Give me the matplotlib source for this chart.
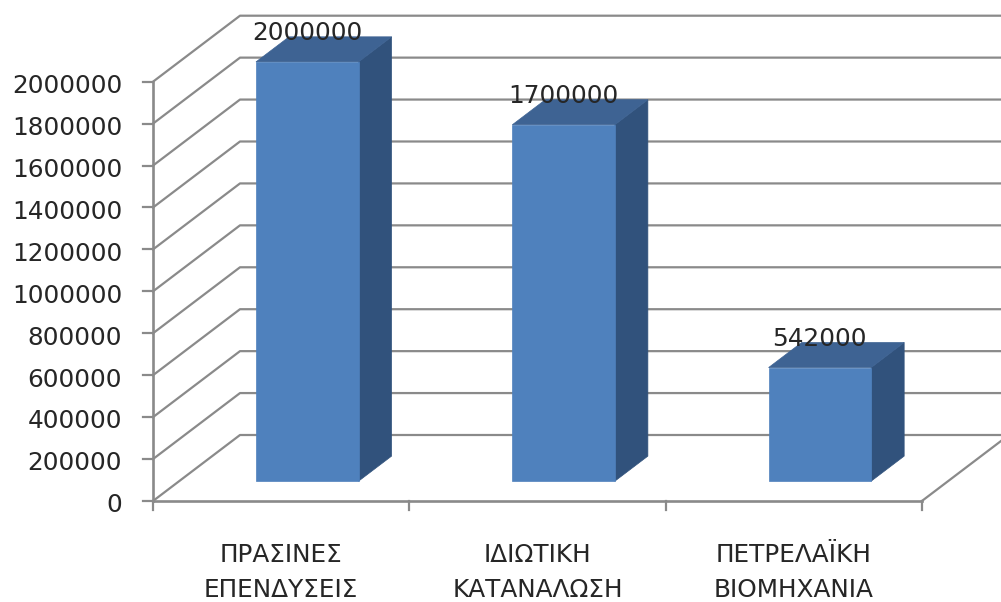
import matplotlib
matplotlib.use('Agg')
import matplotlib.pyplot as plt
from matplotlib.patches import Polygon

# chart data
categories = [["ΠΡΑΣΙΝΕΣ", "ΕΠΕΝΔΥΣΕΙΣ"],
              ["ΙΔΙΩΤΙΚΗ", "ΚΑΤΑΝΑΛΩΣΗ"],
              ["ΠΕΤΡΕΛΑΪΚΗ", "ΒΙΟΜΗΧΑΝΙΑ"]]
values = [2000000, 1700000, 542000]
yticks = list(range(0, 2000001, 200000))

# pseudo-3d projection (Excel style 3-D column)
PX_CAT = 256.3          # pixels per category
PX_VAL = 419.3 / 2e6    # pixels per value unit
DX = 87 / PX_CAT        # depth offset, in categories
DY = 66 / PX_VAL        # depth offset, in value units
Z0, Z1 = 0.30, 0.68     # front/back of the bars (fraction of depth)
BAR_W = 0.40

GRID = '#8a8a8a'
TXT = '#262626'
LW = 1.6
FRONT, SIDE, TOP = '#4f81bd', '#31527c', '#3e6393'
FS = 17.8


def proj(x, v, z):
    return (x + z * DX, v + z * DY)


def px(n):
    # pixel distance expressed in value units
    return n / PX_VAL


fig = plt.figure(figsize=(10.01, 6.02), dpi=100)
ax = fig.add_axes([0, 0, 1, 1])
ax.set_xlim(-153 / PX_CAT, (1001 - 153) / PX_CAT)
ax.set_ylim(px(501 - 602), px(501))
ax.axis('off')

ncat = len(values)

# gridlines: side wall + back wall
for v in yticks:
    x0, y0 = proj(0, v, 0)
    x1, y1 = proj(0, v, 1)
    x2, y2 = proj(ncat, v, 1)
    ax.plot([x0, x1, x2], [y0, y1, y2], color=GRID, lw=LW, zorder=1)

# floor: front edge and right edge
xr0, yr0 = proj(ncat, 0, 0)
xr1, yr1 = proj(ncat, 0, 1)
ax.plot([0, ncat], [0, 0], color=GRID, lw=LW + 0.3, zorder=1)
ax.plot([xr0, xr1], [yr0, yr1], color=GRID, lw=LW, zorder=1)

# value axis
ax.plot([0, 0], [0, yticks[-1]], color=GRID, lw=LW + 0.3, zorder=1)
for v in yticks:
    ax.plot([-10 / PX_CAT, 0], [v, v], color=GRID, lw=LW, zorder=1)
    ax.text(-31 / PX_CAT, v - px(11.3), f"{v}", ha='right', va='baseline',
            fontsize=FS, color=TXT)

# category axis ticks
for i in range(ncat + 1):
    ax.plot([i, i], [0, -px(9)], color=GRID, lw=LW, zorder=1)

for i, (lines, v) in enumerate(zip(categories, values)):
    cx = i + 0.5
    l, r = cx - BAR_W / 2, cx + BAR_W / 2
    front = [proj(l, 0, Z0), proj(r, 0, Z0), proj(r, v, Z0), proj(l, v, Z0)]
    side = [proj(r, 0, Z0), proj(r, 0, Z1), proj(r, v, Z1), proj(r, v, Z0)]
    top = [proj(l, v, Z0), proj(r, v, Z0), proj(r, v, Z1), proj(l, v, Z1)]
    for pts, col in ((side, SIDE), (top, TOP), (front, FRONT)):
        ax.add_patch(Polygon(pts, closed=True, facecolor=col, edgecolor=col,
                             lw=0.5, zorder=3))
    lx, ly = proj(cx, v, Z1)
    ax.text(proj(cx, v, Z0)[0], ly - px(3.5), f"{v}", ha='center',
            va='baseline', fontsize=FS, color=TXT, zorder=5)
    for k, line in enumerate(lines):
        ax.text(cx, -px(61 + 35 * k), line, ha='center', va='baseline',
                fontsize=FS, color=TXT)

fig.savefig('out.png', dpi=100, facecolor='white')
